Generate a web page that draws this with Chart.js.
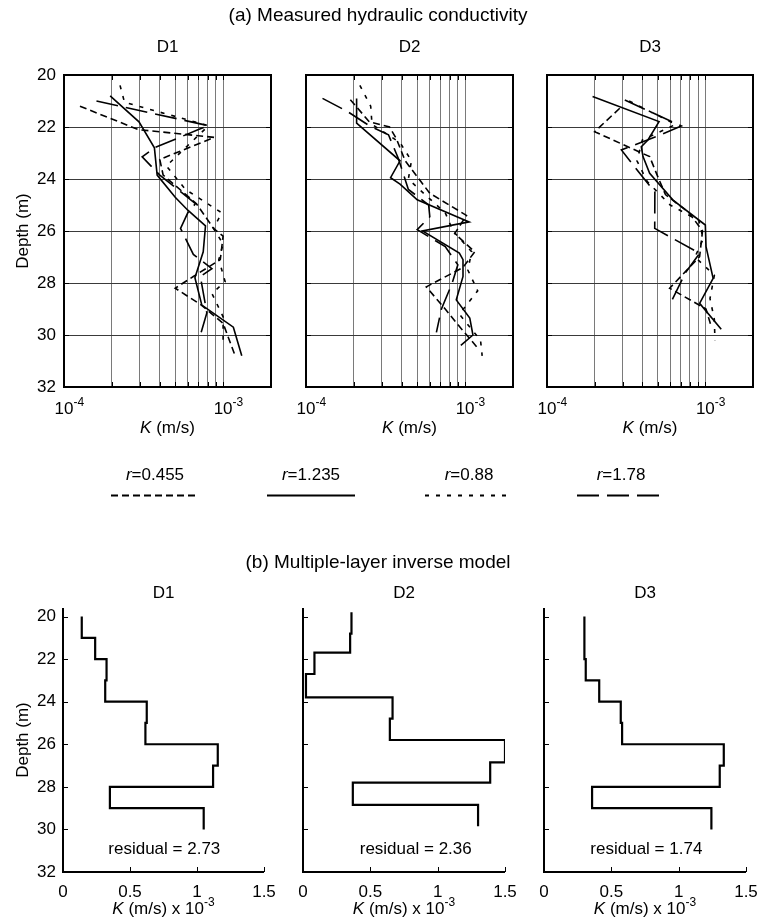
<!DOCTYPE html>
<html><head><meta charset="utf-8">
<script src="https://cdn.jsdelivr.net/npm/chart.js@4.4.0/dist/chart.umd.min.js"></script>
<style>
html,body{margin:0;padding:0;background:#fff;}
body{width:757px;height:923px;position:relative;overflow:hidden;}
canvas{position:absolute;left:0;top:0;}
</style></head><body>
<script>
// ---------------- DATA ----------------
const SERIES_LABELS = ['0.455', '1.235', '0.88', '1.78'];
const DEPTH_TICKS = [20, 22, 24, 26, 28, 30, 32];
const K_TICKS_TOP = [1, 2, 3, 4, 5, 6, 7, 8, 9, 10, 20];          // x 1e-4 m/s
const K_DECADE_LABELS = [{v: 1, exp: '-4'}, {v: 10, exp: '-3'}];
const K_TICKS_BOTTOM = [0, 0.5, 1, 1.5];                          // x 1e-3 m/s
const PANEL_NAMES = ['D1', 'D2', 'D3'];

// (a) measured K (units of 1e-4 m/s) vs depth (m)
const D1_r0455_depth = [21.2, 22.1, 22.4, 23.25, 23.85, 24.95, 25.9, 26.2, 27.1, 27.75, 28.2, 28.85, 29.55, 30.8];
const D1_r0455_K     = [1.26, 2.93, 8.8, 4.0, 4.2, 6.8, 8.7, 10.0, 9.6, 6.5, 5.0, 7.3, 10.0, 11.9];
const D1_r1235_depth = [20.8, 21.8, 22.8, 23.85, 24.7, 25.2, 25.8, 26.8, 27.8, 28.85, 29.7, 30.8];
const D1_r1235_K     = [1.95, 2.96, 3.7, 3.85, 5.0, 6.0, 7.75, 7.5, 6.65, 7.35, 11.6, 13.1];
const D1_r088_depth  = [20.4, 21.05, 21.95, 23.5, 24.4, 25.3, 25.9, 26.5, 27.1, 27.95, 28.4, 29.3, 30.3];
const D1_r088_K      = [2.25, 2.4, 8.1, 4.4, 5.8, 9.8, 8.7, 10.0, 9.4, 10.3, 8.5, 10.0, 10.0];
const D1_r178_depth  = [21.0, 21.95, 22.1, 22.8, 23.15, 23.85, 24.95, 25.3, 25.9, 26.9, 27.45, 27.75, 29.15, 30.0];
const D1_r178_K      = [1.6, 8.1, 7.0, 3.7, 3.1, 4.0, 6.7, 6.0, 5.4, 6.5, 8.5, 7.2, 7.9, 7.2];

const D2_r0455_depth = [20.95, 21.8, 22.0, 22.45, 23.3, 24.55, 25.4, 26.1, 26.8, 27.4, 28.15, 29.0, 29.6, 30.5];
const D2_r0455_K     = [1.9, 2.5, 3.35, 3.7, 4.2, 6.0, 10.2, 8.6, 11.5, 9.7, 5.7, 7.5, 9.0, 12.0];
const D2_r1235_depth = [20.9, 21.85, 23.3, 23.95, 24.2, 24.8, 25.65, 26.0, 26.85, 27.1, 27.75, 28.65, 29.35, 30.0, 30.4];
const D2_r1235_K     = [2.08, 2.08, 3.9, 3.4, 3.9, 5.0, 10.6, 5.4, 9.2, 9.7, 9.7, 8.8, 10.7, 11.2, 9.4];
const D2_r088_depth  = [20.4, 21.2, 21.9, 22.6, 23.3, 24.0, 24.6, 25.3, 26.0, 26.8, 27.5, 28.3, 29.2, 30.2, 30.8];
const D2_r088_K      = [2.18, 2.55, 2.6, 3.9, 4.6, 4.4, 5.6, 7.5, 8.4, 11.0, 10.4, 12.0, 9.2, 12.5, 12.8];
const D2_r178_depth  = [20.9, 21.4, 21.95, 22.3, 23.2, 24.4, 25.0, 25.45, 25.95, 26.6, 27.3, 28.0, 29.0, 29.9];
const D2_r178_K      = [1.27, 1.82, 2.5, 3.3, 3.8, 4.4, 5.9, 6.0, 5.0, 7.5, 9.0, 8.3, 7.1, 6.6];

const D3_r0455_depth = [21.28, 22.18, 23.14, 23.9, 24.6, 25.3, 26.0, 26.99, 28.2, 29.0, 29.6];
const D3_r0455_K     = [2.88, 2.0, 4.45, 5.0, 5.6, 7.9, 9.6, 9.2, 5.95, 10.1, 10.8];
const D3_r1235_depth = [20.83, 21.79, 22.5, 22.76, 23.14, 23.78, 24.81, 25.77, 26.6, 27.82, 28.78, 29.78];
const D3_r1235_K     = [1.94, 5.1, 4.34, 3.94, 4.04, 4.45, 6.25, 10.0, 10.1, 11.2, 9.2, 12.6];
const D3_r088_depth  = [21.0, 21.9, 22.5, 23.3, 24.1, 25.0, 25.6, 26.3, 27.0, 27.7, 28.6, 29.4, 30.2];
const D3_r088_K      = [3.3, 6.5, 4.0, 3.7, 4.3, 6.0, 9.1, 9.7, 8.6, 11.4, 10.7, 11.4, 11.5];
const D3_r178_depth  = [20.96, 21.96, 22.35, 22.88, 23.78, 24.5, 25.9, 26.86, 27.6, 28.85];
const D3_r178_K      = [3.1, 7.05, 5.0, 2.95, 3.85, 4.8, 4.79, 9.2, 7.5, 5.95];

// (b) inverse model layers: boundaries (m) and K (units of 1e-3 m/s)
const B1_bounds = [20, 21, 22, 23, 24, 25, 26, 27, 28, 29, 30];
const B1_K      = [0.14, 0.24, 0.325, 0.315, 0.625, 0.615, 1.155, 1.12, 0.35, 1.05];
const B2_bounds = [19.8, 20.8, 21.7, 22.7, 23.8, 24.8, 25.8, 26.85, 27.8, 28.85, 29.85];
const B2_K      = [0.36, 0.35, 0.085, 0.022, 0.665, 0.645, 1.5, 1.39, 0.37, 1.3];
const B3_bounds = [20, 21, 22, 23, 24, 25, 26, 27, 28, 29, 30];
const B3_K      = [0.30, 0.30, 0.31, 0.41, 0.57, 0.58, 1.335, 1.305, 0.357, 1.243];
const RESIDUALS = ['2.73', '2.36', '1.74'];

// ---------------- STYLE / LAYOUT ----------------
const W = 757, H = 923;
const FONT = '"Liberation Sans", Arial, Helvetica, sans-serif';
const FS = 17, FS_TITLE = 19;
const DASHES = [[7, 4], [], [4, 7], [22, 8]];
const TOP_RECTS = [{l: 64, t: 75, r: 271, b: 387}, {l: 306, t: 75, r: 513, b: 387}, {l: 547, t: 75, r: 753, b: 387}];
const BOT_RECTS = [{l: 63, t: 608, r: 264, b: 872}, {l: 303, t: 608, r: 505, b: 872}, {l: 544, t: 608, r: 746, b: 872}];
const RES_X = [0.756, 0.837, 0.76];
const LEG_X = [155, 311, 469, 621];

function font(size, it) { return (it ? 'italic ' : '') + size + 'px ' + FONT; }
function rich(ctx, parts, x, y, size, align) {
  const ws = parts.map(p => { ctx.font = font(p.sup ? Math.round(size * 0.72) : size, p.it); return ctx.measureText(p.t).width; });
  const tot = ws.reduce((a, b) => a + b, 0);
  let cx = align === 'center' ? x - tot / 2 : align === 'right' ? x - tot : x;
  ctx.textAlign = 'left'; ctx.textBaseline = 'alphabetic'; ctx.fillStyle = '#000';
  parts.forEach((p, i) => {
    ctx.font = font(p.sup ? Math.round(size * 0.72) : size, p.it);
    ctx.fillText(p.t, cx, p.sup ? y - size * 0.45 : y);
    cx += ws[i];
  });
}
function seg(ctx, x1, y1, x2, y2) { ctx.beginPath(); ctx.moveTo(x1, y1); ctx.lineTo(x2, y2); ctx.stroke(); }
function newCanvas() {
  const c = document.createElement('canvas');
  c.width = W; c.height = H; c.style.width = W + 'px'; c.style.height = H + 'px';
  document.body.appendChild(c); return c;
}
function pad(r) { return {left: r.l, top: r.t, right: W - r.r, bottom: H - r.b}; }

const TOP_DATA = [
  [[D1_r0455_depth, D1_r0455_K], [D1_r1235_depth, D1_r1235_K], [D1_r088_depth, D1_r088_K], [D1_r178_depth, D1_r178_K]],
  [[D2_r0455_depth, D2_r0455_K], [D2_r1235_depth, D2_r1235_K], [D2_r088_depth, D2_r088_K], [D2_r178_depth, D2_r178_K]],
  [[D3_r0455_depth, D3_r0455_K], [D3_r1235_depth, D3_r1235_K], [D3_r088_depth, D3_r088_K], [D3_r178_depth, D3_r178_K]]
];
const BOT_DATA = [[B1_bounds, B1_K], [B2_bounds, B2_K], [B3_bounds, B3_K]];

// ---------------- TOP PANELS ----------------
TOP_RECTS.forEach((rect, p) => {
  const datasets = TOP_DATA[p].map((s, i) => ({
    data: s[0].map((d, j) => ({x: s[1][j], y: d})),
    showLine: true, pointRadius: 0, borderColor: '#000', borderWidth: 1.6,
    borderDash: DASHES[i], fill: false, tension: 0
  }));
  const decor = {
    id: 'topDecor' + p,
    afterDraw(chart) {
      const {ctx, chartArea: a, scales: {x, y}} = chart;
      ctx.save();
      ctx.strokeStyle = '#000'; ctx.lineWidth = 1;
      K_TICKS_TOP.forEach(v => {
        const px = Math.round(x.getPixelForValue(v)) + 0.5;
        seg(ctx, px, a.top, px, a.top + 5); seg(ctx, px, a.bottom, px, a.bottom - 5);
      });
      DEPTH_TICKS.forEach(v => {
        const py = Math.round(y.getPixelForValue(v)) + 0.5;
        seg(ctx, a.left, py, a.left + 5, py); seg(ctx, a.right, py, a.right - 5, py);
      });
      ctx.lineWidth = 2;
      ctx.strokeRect(a.left, a.top, a.right - a.left, a.bottom - a.top);
      const cx = (a.left + a.right) / 2;
      rich(ctx, [{t: PANEL_NAMES[p]}], cx, 52, FS, 'center');
      K_DECADE_LABELS.forEach(lb => {
        const px = x.getPixelForValue(lb.v);
        ctx.font = font(FS); const w10 = ctx.measureText('10').width;
        rich(ctx, [{t: '10'}, {t: lb.exp, sup: true}], px - w10 / 2, 414, FS, 'left');
      });
      rich(ctx, [{t: 'K', it: true}, {t: ' (m/s)'}], cx, 433, FS, 'center');
      if (p === 0) {
        DEPTH_TICKS.forEach(v => {
          ctx.font = font(FS); ctx.textAlign = 'right'; ctx.textBaseline = 'middle'; ctx.fillStyle = '#000';
          ctx.fillText(String(v), 56, y.getPixelForValue(v));
        });
        ctx.save(); ctx.translate(22, (a.top + a.bottom) / 2); ctx.rotate(-Math.PI / 2);
        rich(ctx, [{t: 'Depth (m)'}], 0, 6, FS, 'center'); ctx.restore();
        rich(ctx, [{t: '(a) Measured hydraulic conductivity'}], 378, 21, FS_TITLE, 'center');
        // legend
        SERIES_LABELS.forEach((lab, i) => {
          rich(ctx, [{t: 'r', it: true}, {t: '=' + lab}], LEG_X[i], 480, FS, 'center');
          ctx.save(); ctx.lineWidth = 1.8; ctx.setLineDash(DASHES[i]); ctx.strokeStyle = '#000';
          seg(ctx, LEG_X[i] - 44, 495.5, LEG_X[i] + 44, 495.5); ctx.restore();
        });
      }
      ctx.restore();
    }
  };
  new Chart(newCanvas(), {
    type: 'scatter', data: {datasets},
    options: {
      responsive: false, animation: false, devicePixelRatio: 1,
      layout: {padding: pad(rect)},
      plugins: {legend: {display: false}, tooltip: {enabled: false}},
      scales: {
        x: {type: 'logarithmic', min: 1, max: 20,
            afterBuildTicks: s => { s.ticks = K_TICKS_TOP.map(v => ({value: v})); },
            ticks: {display: false}, border: {display: false},
            grid: {drawTicks: false, lineWidth: 1, color: c => (c.tick && (c.tick.value === 1 || c.tick.value === 20)) ? 'rgba(0,0,0,0)' : '#7a7a7a'},
            afterFit: s => { s.height = 0; }},
        y: {type: 'linear', min: 20, max: 32, reverse: true,
            afterBuildTicks: s => { s.ticks = DEPTH_TICKS.map(v => ({value: v})); },
            ticks: {display: false}, border: {display: false},
            grid: {drawTicks: false, lineWidth: 1, color: c => (c.tick && (c.tick.value === 20 || c.tick.value === 32)) ? 'rgba(0,0,0,0)' : '#3a3a3a'},
            afterFit: s => { s.width = 0; }}
      }
    },
    plugins: [decor]
  });
});

// ---------------- BOTTOM PANELS ----------------
BOT_RECTS.forEach((rect, p) => {
  const [bounds, ks] = BOT_DATA[p];
  const pts = [];
  ks.forEach((k, i) => { pts.push({x: k, y: bounds[i]}); pts.push({x: k, y: bounds[i + 1]}); });
  const decor = {
    id: 'botDecor' + p,
    afterDraw(chart) {
      const {ctx, chartArea: a, scales: {x, y}} = chart;
      ctx.save(); ctx.strokeStyle = '#000'; ctx.lineWidth = 1;
      DEPTH_TICKS.forEach(v => { const py = Math.round(y.getPixelForValue(v)) + 0.5; seg(ctx, a.left, py, a.left + 5, py); });
      K_TICKS_BOTTOM.forEach(v => { const px = Math.round(x.getPixelForValue(v)) + 0.5; seg(ctx, px, a.bottom, px, a.bottom - 5); });
      ctx.lineWidth = 2;
      ctx.beginPath(); ctx.moveTo(a.left, a.top); ctx.lineTo(a.left, a.bottom); ctx.lineTo(a.right, a.bottom); ctx.stroke();
      const cx = (a.left + a.right) / 2;
      rich(ctx, [{t: PANEL_NAMES[p]}], cx, 598, FS, 'center');
      K_TICKS_BOTTOM.forEach(v => rich(ctx, [{t: String(v)}], x.getPixelForValue(v), 897, FS, 'center'));
      rich(ctx, [{t: 'K', it: true}, {t: ' (m/s) x 10'}, {t: '-3', sup: true}], cx, 914, FS, 'center');
      rich(ctx, [{t: 'residual = ' + RESIDUALS[p]}], x.getPixelForValue(RES_X[p]), 854, FS, 'center');
      if (p === 0) {
        DEPTH_TICKS.forEach(v => {
          ctx.font = font(FS); ctx.textAlign = 'right'; ctx.textBaseline = 'middle'; ctx.fillStyle = '#000';
          ctx.fillText(String(v), 56, y.getPixelForValue(v));
        });
        ctx.save(); ctx.translate(22, (a.top + a.bottom) / 2); ctx.rotate(-Math.PI / 2);
        rich(ctx, [{t: 'Depth (m)'}], 0, 6, FS, 'center'); ctx.restore();
        rich(ctx, [{t: '(b) Multiple-layer inverse model'}], 378, 568, FS_TITLE, 'center');
      }
      ctx.restore();
    }
  };
  new Chart(newCanvas(), {
    type: 'scatter',
    data: {datasets: [{data: pts, showLine: true, pointRadius: 0, borderColor: '#000', borderWidth: 2.2, fill: false, tension: 0}]},
    options: {
      responsive: false, animation: false, devicePixelRatio: 1,
      layout: {padding: pad(rect)},
      plugins: {legend: {display: false}, tooltip: {enabled: false}},
      scales: {
        x: {type: 'linear', min: 0, max: 1.5, ticks: {display: false}, border: {display: false},
            grid: {display: false}, afterFit: s => { s.height = 0; }},
        y: {type: 'linear', min: 19.6, max: 32, reverse: true, ticks: {display: false}, border: {display: false},
            grid: {display: false}, afterFit: s => { s.width = 0; }}
      }
    },
    plugins: [decor]
  });
});
</script>
</body></html>
